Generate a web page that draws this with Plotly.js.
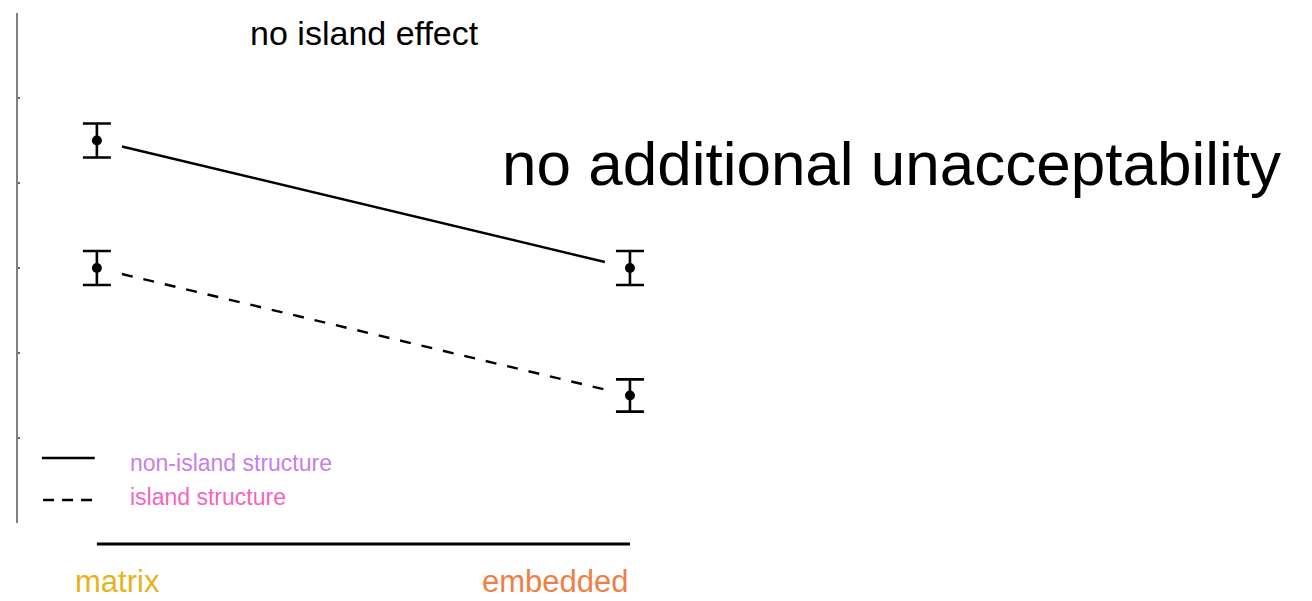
<!DOCTYPE html>
<html>
<head>
<meta charset="utf-8">
<script src="https://cdn.plot.ly/plotly-3.0.1.min.js"></script>
<style>
  html, body { margin: 0; padding: 0; background: #fff; }
  #chart { width: 1312px; height: 601px; }
</style>
</head>
<body>
<div id="chart"></div>
<script>
// conditions on the x axis (0 = matrix, 1 = embedded)
const categories = ['matrix', 'embedded'];
const categoryColors = ['#E6B31E', '#EE8045'];

// mean acceptability per condition, with error bar half-widths
const nonIslandMeans = [4.5, 3.0];
const nonIslandErrors = [0.2, 0.2];
const islandMeans = [3.0, 1.5];
const islandErrors = [0.2, 0.19];

const seriesNames = ['non-island structure', 'island structure'];
const seriesColors = ['#C97EE8', '#F564C0'];

const font = 'Liberation Sans, Arial, sans-serif';
const gap = 0.047; // lines stop short of the points

const xs = categories.map((c, i) => i);

// shorten a two-point segment on both ends
function trimmed(ys) {
    const dy = ys[1] - ys[0];
    return {
        x: [gap, 1 - gap],
        y: [ys[0] + gap * dy, ys[1] - gap * dy]
    };
}

function pointTrace(ys, errs) {
    return {
        x: xs,
        y: ys,
        type: 'scatter',
        mode: 'markers',
        marker: { color: '#000', size: 10 },
        error_y: { type: 'data', array: errs, visible: true, color: '#000', thickness: 2.6, width: 14 },
        showlegend: false,
        hoverinfo: 'skip'
    };
}

const solid = trimmed(nonIslandMeans);
const dashed = trimmed(islandMeans);

const data = [
    { x: solid.x, y: solid.y, type: 'scatter', mode: 'lines', line: { color: '#000', width: 2.4 }, showlegend: false },
    { x: dashed.x, y: dashed.y, type: 'scatter', mode: 'lines', line: { color: '#000', width: 2.4, dash: '11px,11px' }, showlegend: false },
    pointTrace(nonIslandMeans, nonIslandErrors),
    pointTrace(islandMeans, islandErrors)
];

const annotations = [
    {
        text: 'no additional unacceptability',
        xref: 'paper', yref: 'paper', x: 0.3725, y: 0.705,
        xanchor: 'left', yanchor: 'middle', showarrow: false,
        font: { family: font, size: 62, color: '#000' }
    },
    // x labels, kept inside the bottom edge
    {
        text: categories[0], xref: 'x', yref: 'paper', x: -0.045, y: -0.152,
        xanchor: 'left', yanchor: 'bottom', showarrow: false,
        font: { family: font, size: 31, color: categoryColors[0] }
    },
    {
        text: categories[1], xref: 'x', yref: 'paper', x: 1.002, y: -0.152,
        xanchor: 'right', yanchor: 'bottom', showarrow: false,
        font: { family: font, size: 31, color: categoryColors[1] }
    },
    // legend labels
    {
        text: seriesNames[0], xref: 'x', yref: 'y', x: 0.058, y: 0.706,
        xanchor: 'left', yanchor: 'middle', showarrow: false,
        font: { family: font, size: 23, color: seriesColors[0] }
    },
    {
        text: seriesNames[1], xref: 'x', yref: 'y', x: 0.058, y: 0.306,
        xanchor: 'left', yanchor: 'middle', showarrow: false,
        font: { family: font, size: 23, color: seriesColors[1] }
    }
];

const shapes = [
    // bottom axis line, matrix to embedded
    { type: 'line', xref: 'x', yref: 'paper', x0: 0, x1: 1, y0: -0.041, y1: -0.041, line: { color: '#000', width: 3 } },
    // legend samples
    { type: 'line', xref: 'x', yref: 'y', x0: -0.103, x1: -0.004, y0: 0.765, y1: 0.765, line: { color: '#000', width: 2.4 } },
    { type: 'line', xref: 'x', yref: 'y', x0: -0.101, x1: 0.006, y0: 0.27, y1: 0.27, line: { color: '#000', width: 2.6, dash: '11px,8px' } }
];

const layout = {
    width: 1312,
    height: 601,
    margin: { l: 18, r: 0, t: 13, b: 78 },
    paper_bgcolor: '#fff',
    plot_bgcolor: '#fff',
    font: { family: font, color: '#000' },
    title: {
        text: 'no island effect',
        font: { family: font, size: 34, color: '#000' },
        x: 0.2675, xanchor: 'center',
        y: 0.945, yanchor: 'middle', xref: 'paper', yref: 'container'
    },
    xaxis: {
        range: [-0.148, 2.2795],
        showline: false, showgrid: false, zeroline: false,
        showticklabels: false, ticks: ''
    },
    yaxis: {
        range: [0, 6], dtick: 1,
        showline: true, linecolor: '#808080', linewidth: 2,
        ticks: 'inside', ticklen: 2, tickwidth: 2, tickcolor: '#666',
        showgrid: false, zeroline: false, showticklabels: false
    },
    showlegend: false,
    annotations: annotations,
    shapes: shapes
};

Plotly.newPlot('chart', data, layout, { displayModeBar: false, staticPlot: true });
</script>
</body>
</html>
